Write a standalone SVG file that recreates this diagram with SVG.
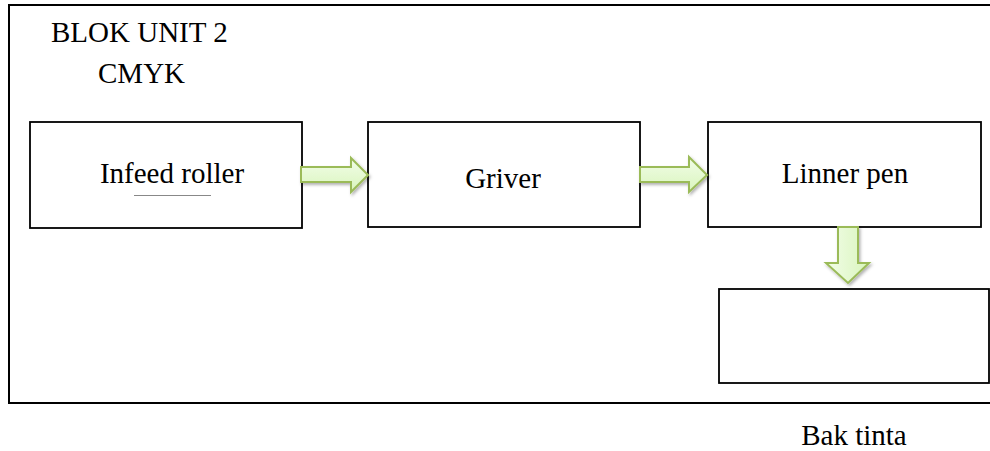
<svg xmlns="http://www.w3.org/2000/svg" width="990" height="451" viewBox="0 0 990 451">
<style>
.box{fill:#fff;stroke:#000;stroke-width:1.8}
.frame{fill:none;stroke:#000;stroke-width:2}
.t{font-family:'Liberation Serif','Times New Roman',serif;font-size:29px;fill:#000}
.arr{fill:url(#g);stroke:#9bbb59;stroke-width:2;stroke-linejoin:miter;filter:url(#sh)}
</style>
<defs>
<linearGradient id="g" x1="0" y1="0" x2="0" y2="1">
<stop offset="0" stop-color="#f2fde8"/>
<stop offset="1" stop-color="#d9f5bd"/>
</linearGradient>
<linearGradient id="gv" x1="0" y1="0" x2="1" y2="0">
<stop offset="0" stop-color="#f2fde8"/>
<stop offset="1" stop-color="#d9f5bd"/>
</linearGradient>
<filter id="sh" x="-20%" y="-20%" width="150%" height="150%">
<feDropShadow dx="1.5" dy="2" stdDeviation="1.5" flood-color="#000" flood-opacity="0.3"/>
</filter>
</defs>
<rect class="frame" x="9" y="5" width="990" height="398"/>
<text class="t" x="51" y="42">BLOK UNIT 2</text>
<text class="t" x="98" y="83">CMYK</text>
<g id="infeed">
<rect class="box" x="30" y="122" width="272" height="106"/>
<text class="t" x="172" y="183" text-anchor="middle">Infeed roller</text>
<line x1="134" y1="195.5" x2="211" y2="195.5" stroke="#888" stroke-width="1"/>
</g>
<g id="griver">
<rect class="box" x="368" y="122" width="272" height="105"/>
<text class="t" x="503" y="188" text-anchor="middle">Griver</text>
</g>
<g id="linner">
<rect class="box" x="708" y="122" width="273" height="105"/>
<text class="t" x="845" y="183" text-anchor="middle">Linner pen</text>
</g>
<g id="bak">
<rect class="box" x="719" y="289" width="270" height="94"/>
</g>
<text class="t" x="854" y="445" text-anchor="middle">Bak tinta</text>
<g id="connectors">
<path class="arr" d="M301,167 H351 V158 L368,175 L351,192 V182 H301 Z"/>
<path class="arr" d="M640,167 H689 V157 L707,175 L689,192 V182 H640 Z"/>
<path class="arr" style="fill:url(#gv)" d="M838,227 H858 V263 H869 L848,283 L826,263 H838 Z"/>
</g>
</svg>
